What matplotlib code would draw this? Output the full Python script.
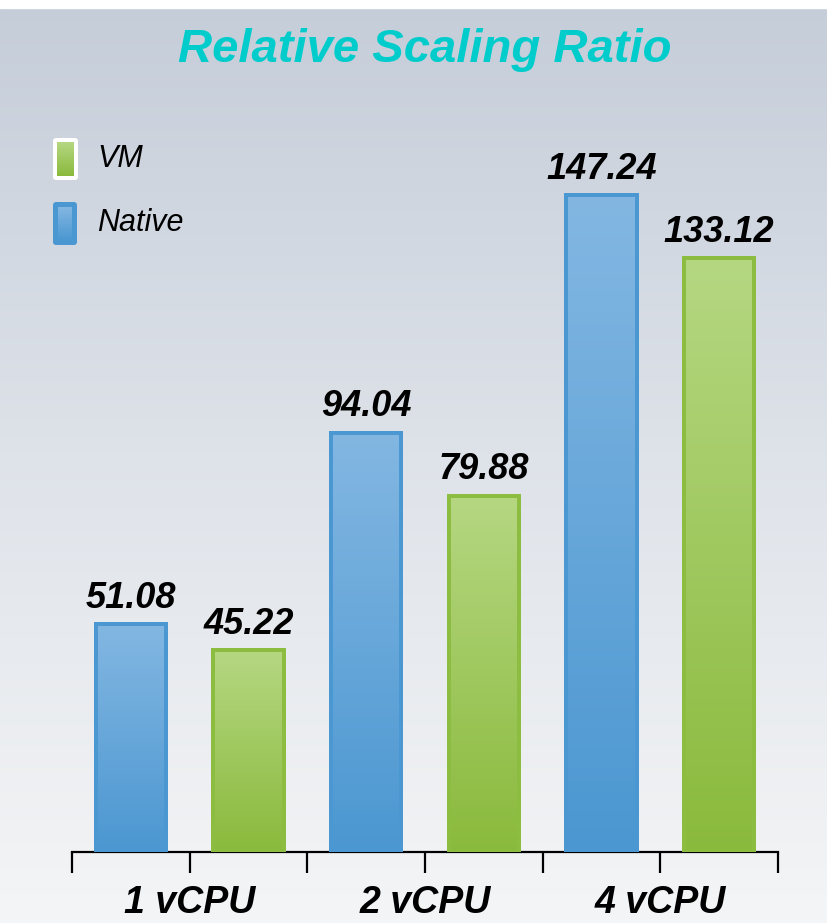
import numpy as np
import matplotlib.pyplot as plt
from matplotlib.colors import LinearSegmentedColormap
from matplotlib.patches import FancyBboxPatch, Rectangle
from matplotlib import font_manager

groups = ['1 vCPU', '2 vCPU', '4 vCPU']
native = [51.08, 94.04, 147.24]
vm = [45.22, 79.88, 133.12]

W, H = 827, 923
fig = plt.figure(figsize=(W / 100, H / 100), dpi=100)

names = {f.name for f in font_manager.fontManager.ttflist}
narrow = 'Liberation Sans Narrow' if 'Liberation Sans Narrow' in names else 'Liberation Sans'

# background gradient
bg = fig.add_axes([0, 0, 1, 1], zorder=-10)
bg_cmap = LinearSegmentedColormap.from_list('bg', [(0, '#c5cdd9'), (0.55, '#e1e5eb'), (1, '#f4f5f6')])
bg.imshow(np.linspace(0, 1, 256)[:, None], cmap=bg_cmap, aspect='auto', extent=[0, 1, 0, 1])
bg.add_patch(Rectangle((0, 1 - 8 / H), 1, 8 / H, color='white'))
bg.set_xlim(0, 1)
bg.set_ylim(0, 1)
bg.axis('off')

# main axes: baseline at y=852 px, 4.46 px per unit
base = 852
scale = 4.46
ax = fig.add_axes([72 / W, (H - base) / H, (778 - 72) / W, base / H])
ax.patch.set_alpha(0)
ax.set_xlim(-0.5, 5.5)
ax.set_ylim(0, base / scale)

blue_cmap = LinearSegmentedColormap.from_list('b', ['#4b97d1', '#83b7e2'])
green_cmap = LinearSegmentedColormap.from_list('g', ['#8aba3c', '#b5d782'])
grad = np.linspace(0, 1, 256)[:, None]

width = 0.595
for i in range(len(groups)):
    for j, (vals, edge, cm) in enumerate([(native, '#4a97d2', blue_cmap), (vm, '#8cbc40', green_cmap)]):
        x = 2 * i + j
        v = vals[i]
        bar = ax.bar(x, v, width=width, facecolor='none', edgecolor=edge, linewidth=4 * 0.72, zorder=3)[0]
        im = ax.imshow(grad, cmap=cm, aspect='auto', origin='lower',
                       extent=[x - width / 2, x + width / 2, 0, v], zorder=2)
        im.set_clip_path(bar)
        ax.annotate(f'{v:.2f}', (x, v), xytext=(0, 12), textcoords='offset points',
                    ha='center', va='baseline', fontsize=26, fontweight='bold',
                    fontstyle='italic', family='Liberation Sans', color='black')

ax.set_xlim(-0.5, 5.5)
ax.set_ylim(0, base / scale)
for s in ['top', 'right', 'left']:
    ax.spines[s].set_visible(False)
ax.spines['bottom'].set_linewidth(1.6)
ax.set_yticks([])
ax.set_xticks(np.arange(-0.5, 6, 1))
ax.set_xticklabels([])
ax.tick_params(axis='x', direction='out', length=15, width=1.6, color='black')

for i, g in enumerate(groups):
    ax.annotate(g, (2 * i + 0.5, 0), xytext=(0, -37), textcoords='offset points',
                ha='center', va='center', fontsize=27, fontweight='bold', fontstyle='italic',
                family=narrow, color='black', annotation_clip=False)

# overlay in pixel coordinates for title and legend
ov = fig.add_axes([0, 0, 1, 1], zorder=5)
ov.set_xlim(0, W)
ov.set_ylim(H, 0)
ov.axis('off')
ov.patch.set_alpha(0)

ov.text(425, 50, 'Relative Scaling Ratio', ha='center', va='center', fontsize=34,
        fontweight='bold', fontstyle='italic', family='Liberation Sans', color='#00cccc')

# legend: VM
ov.add_patch(FancyBboxPatch((53, 138), 25, 42, boxstyle='round,pad=0,rounding_size=3',
                            facecolor='white', edgecolor='none', zorder=1))
im = ov.imshow(grad, cmap=green_cmap, aspect='auto', origin='lower', extent=[57, 74, 176, 142], zorder=2)
im.set_clip_path(Rectangle((57, 142), 17, 34, transform=ov.transData))
ov.text(97, 159, 'VM', ha='left', va='center', fontsize=22, fontstyle='italic',
        family='Liberation Sans', color='black')
# legend: Native
ov.add_patch(FancyBboxPatch((53, 202), 24, 43, boxstyle='round,pad=0,rounding_size=3',
                            facecolor='#4a97d2', edgecolor='none', zorder=1))
im = ov.imshow(grad, cmap=blue_cmap, aspect='auto', origin='lower', extent=[58, 72, 240, 207], zorder=2)
im.set_clip_path(Rectangle((58, 207), 14, 33, transform=ov.transData))
ov.text(97, 223, 'Native', ha='left', va='center', fontsize=22, fontstyle='italic',
        family='Liberation Sans', color='black')
ov.set_xlim(0, W)
ov.set_ylim(H, 0)

fig.savefig('out.png', dpi=100)
